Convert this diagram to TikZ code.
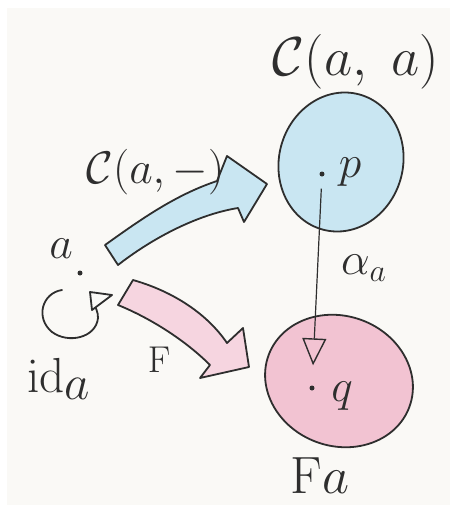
\documentclass[tikz,border=0pt]{standalone}
\usetikzlibrary{shapes.geometric,arrows.meta}
\definecolor{paper}{HTML}{FAF9F6}
\definecolor{ink}{HTML}{2E2E2E}
\definecolor{bluewash}{HTML}{C9E6F2}
\definecolor{pinkwash}{HTML}{F2C3D2}
\definecolor{pinkarrow}{HTML}{F6D5E0}
\tikzset{
  outline/.style={draw=ink, line width=1.8pt, line join=round, line cap=round},
  setbox/.style={ellipse, outline, inner sep=0pt},
  lbl/.style={text=ink, inner sep=0pt, font=\huge, scale=2.2},
  smalllbl/.style={text=ink, inner sep=0pt, font=\huge, scale=1.8},
  elem/.style={circle, fill=ink, inner sep=0pt, minimum size=5pt},
}
\begin{document}
\begin{tikzpicture}[x=1pt, y=-1pt]
\useasboundingbox (0,0) rectangle (453,515);
\fill[white] (0,0) rectangle (453,515);
\fill[paper] (7,8) rectangle (450,505);

% sets
\node[setbox, fill=bluewash, minimum width=124pt, minimum height=140pt, rotate=-15] (Caa) at (341,162) {};
\node[setbox, fill=pinkwash, minimum width=150pt, minimum height=130pt, rotate=-20] (Fa) at (339,381) {};

% fat arrows
\draw[outline, fill=bluewash] (105,245) .. controls (140,220) and (175,195) .. (217,181)
  -- (227,156) -- (267,184) -- (244,222) -- (238,208)
  .. controls (195,215) and (150,240) .. (118,265) -- cycle;
\draw[outline, fill=pinkarrow] (133,280) .. controls (175,292) and (208,315) .. (227,343)
  -- (243,328) -- (249,367) -- (200,378) -- (210,365)
  .. controls (185,340) and (150,318) .. (118,305) -- cycle;

% elements
\node[elem] (adot) at (80,273) {};
\node[elem] (p) at (322,174) {};
\node[elem] (q) at (312,388) {};

% alpha arrow
\draw[ink, line width=1.2pt, -{Triangle[open, length=27pt, width=24pt, line width=1.4pt]},
  shorten <=12pt, shorten >=20pt] (p) -- (q);

% identity loop
\coordinate (loopstart) at (62,290);
\coordinate (loopend) at (92,302);
\draw[outline] (loopstart) .. controls (42,293) and (35,318) .. (52,332)
  .. controls (68,344) and (96,338) .. (98,318)
  .. controls (98,312) and (96,307) .. (loopend);
\draw[outline, fill=paper] (90,292) -- (112,295) -- (92,310) -- cycle;

% labels
\node[lbl, scale=1.2] (tCaa) at (356,62) {$\mathcal{C}(a,\;a)$};
\node[lbl, anchor=west] (tCam) at (86,172) {$\mathcal{C}(a,-)$};
\node[lbl] (ta) at (61,249) {$a$};
\node[lbl, scale=1.08, anchor=west] (tid) at (27,379) {$\mathrm{id}_{\textstyle a}$};
\node[smalllbl] (tF) at (159,360) {$\mathrm{F}$};
\node[lbl] (talpha) at (364,268) {$\alpha_a$};
\node[lbl] (tp) at (350,172) {$p$};
\node[lbl] (tq) at (342,396) {$q$};
\node[lbl, scale=1.15] (tFa) at (320,476) {$\mathrm{F}a$};
\end{tikzpicture}
\end{document}
